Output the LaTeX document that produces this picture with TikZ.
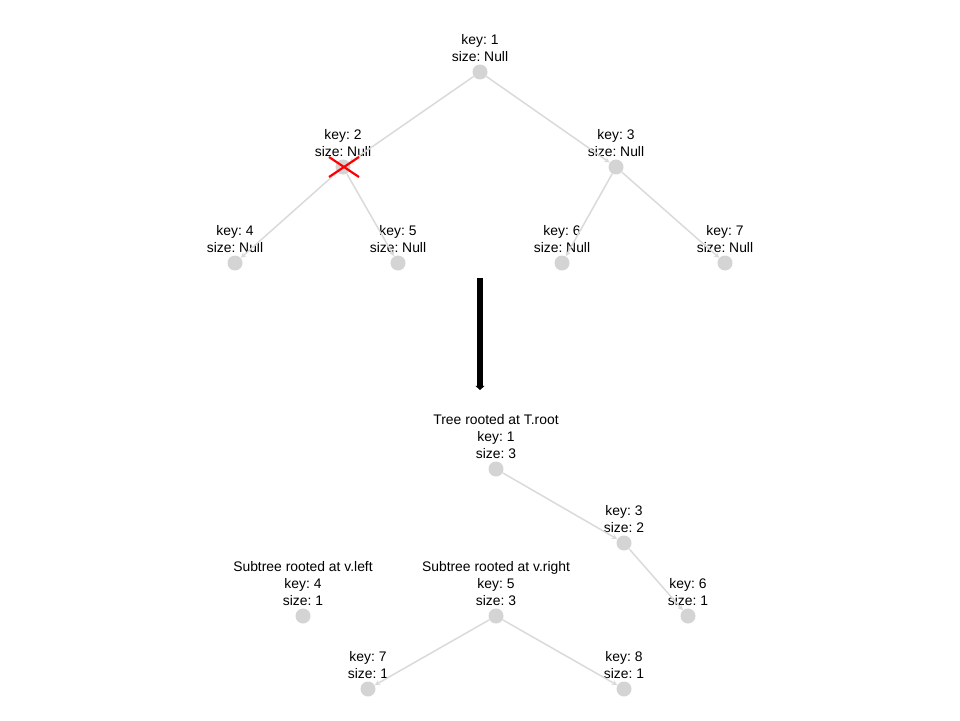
\documentclass[tikz,border=0pt]{standalone}
\usepackage{fontspec}
\setmainfont{Liberation Sans}
\usepackage{tikz}
\usetikzlibrary{arrows.meta}
\definecolor{dotgray}{RGB}{212,212,212}
\definecolor{edgegray}{RGB}{218,218,218}
\frenchspacing

\begin{document}
\begin{tikzpicture}[x=0.02cm, y=-0.02cm,
    vert/.style={circle, fill=dotgray, inner sep=0pt, minimum size=0.3cm},
    lab/.style={above=0.05cm, inner sep=0pt, align=center, font=\fontsize{7.9}{9.6}\selectfont},
    edge/.style={draw=edgegray, line width=0.85pt, -{Stealth[length=3pt, width=3pt]}}]
    \useasboundingbox (0,0) rectangle (960,720);

    % Tree before the cut
    \node[vert] (n1) at (480,72) {};
    \node[vert] (n2) at (343,167) {};
    \node[vert] (n3) at (616,167) {};
    \node[vert] (n4) at (235,263) {};
    \node[vert] (n5) at (398,263) {};
    \node[vert] (n6) at (562,263) {};
    \node[vert] (n7) at (725,263) {};

    \node[lab] (l1) at (n1.north) {key: 1\\size: Null};
    \node[lab] (l2) at (n2.north) {key: 2\\size: Null};
    \node[lab] (l3) at (n3.north) {key: 3\\size: Null};
    \node[lab] (l4) at (n4.north) {key: 4\\size: Null};
    \node[lab] (l5) at (n5.north) {key: 5\\size: Null};
    \node[lab] (l6) at (n6.north) {key: 6\\size: Null};
    \node[lab] (l7) at (n7.north) {key: 7\\size: Null};

    \draw[edge] (n1) -- (n2);
    \draw[edge] (n1) -- (n3);
    \draw[edge] (n2) -- (n4);
    \draw[edge] (n2) -- (n5);
    \draw[edge] (n3) -- (n6);
    \draw[edge] (n3) -- (n7);

    % Cut mark on key 2
    \draw[red, line width=1.2pt] (329,157) -- (359,177) (329,177) -- (359,157);

    % Big arrow
    \coordinate (from) at (480,278);
    \coordinate (to) at (480,390);
    \draw[line width=3.4pt, -{Triangle[length=2.4pt, width=5.2pt]}] (from) -- (to);

    % Trees after the cut
    \node[vert] (r1) at (496,469) {};
    \node[vert] (r3) at (624,543) {};
    \node[vert] (r6) at (688,616) {};
    \node[vert] (r4) at (303,616) {};
    \node[vert] (r5) at (496,616) {};
    \node[vert] (r7) at (368,689) {};
    \node[vert] (r8) at (624,689) {};

    \node[lab] (m1) at (r1.north) {Tree rooted at T.root\\key: 1\\size: 3};
    \node[lab] (m3) at (r3.north) {key: 3\\size: 2};
    \node[lab] (m6) at (r6.north) {key: 6\\size: 1};
    \node[lab] (m4) at (r4.north) {Subtree rooted at v.left\\key: 4\\size: 1};
    \node[lab] (m5) at (r5.north) {Subtree rooted at v.right\\key: 5\\size: 3};
    \node[lab] (m7) at (r7.north) {key: 7\\size: 1};
    \node[lab] (m8) at (r8.north) {key: 8\\size: 1};

    \draw[edge] (r1) -- (r3);
    \draw[edge] (r3) -- (r6);
    \draw[edge] (r5) -- (r7);
    \draw[edge] (r5) -- (r8);
\end{tikzpicture}
\end{document}
